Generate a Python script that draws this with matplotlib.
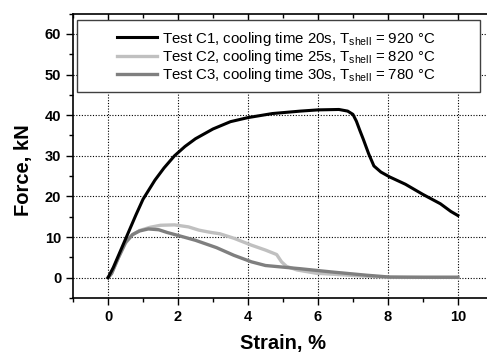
import numpy as np
import matplotlib
matplotlib.use('Agg')
import matplotlib.pyplot as plt
from matplotlib.ticker import MultipleLocator
from matplotlib.patches import Rectangle

plt.rcParams['font.family'] = ['Liberation Sans', 'DejaVu Sans']
plt.rcParams['mathtext.fontset'] = 'custom'
plt.rcParams['mathtext.rm'] = 'Liberation Sans'
plt.rcParams['mathtext.it'] = 'Liberation Sans'

# test C1, cooling time 20s
c1_x = [0.0, 0.15, 0.3, 0.45, 0.6, 0.8, 1.0, 1.34, 1.6, 1.9, 2.2, 2.5, 3.0, 3.5, 4.0, 4.7,
        5.5, 6.0, 6.6, 6.85, 7.0, 7.1, 7.2, 7.3, 7.45, 7.6, 7.8, 8.05, 8.5, 9.0, 9.5, 9.8, 10.0]
c1_y = [0.0, 2.5, 5.5, 8.5, 11.5, 15.5, 19.3, 24.0, 27.0, 30.0, 32.3, 34.2, 36.6, 38.4, 39.4, 40.4,
        41.0, 41.3, 41.4, 41.0, 40.2, 38.5, 36.2, 34.0, 30.5, 27.5, 26.0, 24.8, 23.0, 20.5, 18.2, 16.3, 15.3]

# test C2, cooling time 25s
c2_x = [0.0, 0.1, 0.3, 0.5, 0.7, 0.9, 1.2, 1.5, 1.9, 2.3, 2.6, 2.9, 3.2, 3.6, 4.1, 4.5, 4.82,
        4.96, 5.1, 5.4, 5.95, 6.9, 7.85, 8.5, 10.0]
c2_y = [0.0, 1.0, 5.0, 8.5, 10.6, 11.6, 12.4, 12.9, 13.0, 12.5, 11.7, 11.2, 10.8, 9.7, 8.0, 6.8, 5.7,
        3.9, 2.8, 1.9, 1.1, 0.6, 0.15, 0.1, 0.1]

# test C3, cooling time 30s
c3_x = [0.0, 0.1, 0.3, 0.5, 0.7, 0.9, 1.15, 1.45, 1.7, 2.0, 2.5, 2.9, 3.1, 3.6, 4.1, 4.5, 5.0,
        5.5, 6.4, 7.4, 8.05, 9.0, 10.0]
c3_y = [0.0, 1.0, 5.0, 8.7, 10.6, 11.5, 12.0, 11.8, 11.1, 10.4, 9.2, 8.0, 7.4, 5.5, 3.9, 3.0, 2.6,
        2.2, 1.4, 0.6, 0.15, 0.1, 0.1]

labels = ['Test C1, cooling time 20s, T$_{\\mathrm{shell}}$ = 920 °C',
          'Test C2, cooling time 25s, T$_{\\mathrm{shell}}$ = 820 °C',
          'Test C3, cooling time 30s, T$_{\\mathrm{shell}}$ = 780 °C']
colors = ['#000000', '#c0c0c0', '#7f7f7f']

fig = plt.figure(figsize=(4.87, 3.52), dpi=100)
ax = fig.add_axes([0.150, 0.1534, 0.862, 0.808])

ax.plot(c1_x, c1_y, color=colors[0], lw=2.2, label=labels[0], zorder=5)
ax.plot(c2_x, c2_y, color=colors[1], lw=2.4, label=labels[1], zorder=4)
ax.plot(c3_x, c3_y, color=colors[2], lw=2.4, label=labels[2], zorder=4)

ax.set_xlim(-1, 11)
ax.set_ylim(-5, 65)
ax.xaxis.set_major_locator(MultipleLocator(2))
ax.xaxis.set_minor_locator(MultipleLocator(1))
ax.yaxis.set_major_locator(MultipleLocator(10))
ax.yaxis.set_minor_locator(MultipleLocator(5))
ax.set_xticks(range(0, 11, 2))
ax.set_yticks(range(0, 61, 10))
ax.tick_params(axis='both', which='major', length=5, width=1, labelsize=10.5, direction='out')
ax.tick_params(axis='both', which='minor', length=3, width=1, direction='out')
ax.tick_params(axis='x', which='both', top=True, labeltop=False)
for t in ax.xaxis.get_major_ticks() + ax.xaxis.get_minor_ticks():
    t.tick2line.set_marker(3)  # inward on top
for lbl in ax.get_xticklabels() + ax.get_yticklabels():
    lbl.set_fontweight('bold')

ax.grid(True, which='major', linestyle=(0, (1, 1.5)), color='black', lw=0.8)
ax.set_axisbelow(True)
for s in ax.spines.values():
    s.set_linewidth(1.2)

ax.set_xlabel('Strain, %', fontsize=14.5, fontweight='bold')
ax.set_ylabel('Force, kN', fontsize=14.5, fontweight='bold')
ax.xaxis.set_label_coords(0.5, -0.128)
ax.yaxis.set_label_coords(-0.095, 0.45)

# legend box drawn by hand (wide padding as in the original)
box = Rectangle((0.0095, 0.724), 0.9595, 0.253, transform=ax.transAxes, facecolor='white',
                edgecolor='#404040', lw=1.0, zorder=6, clip_on=False)
ax.add_patch(box)
leg = ax.legend(loc='upper left', bbox_to_anchor=(0.105, 0.944), borderaxespad=0, borderpad=0,
                fontsize=10.8, handlelength=2.67, handletextpad=0.33, frameon=False,
                labelspacing=0.02)
leg.set_zorder(7)

fig.savefig('out.png', dpi=100)
